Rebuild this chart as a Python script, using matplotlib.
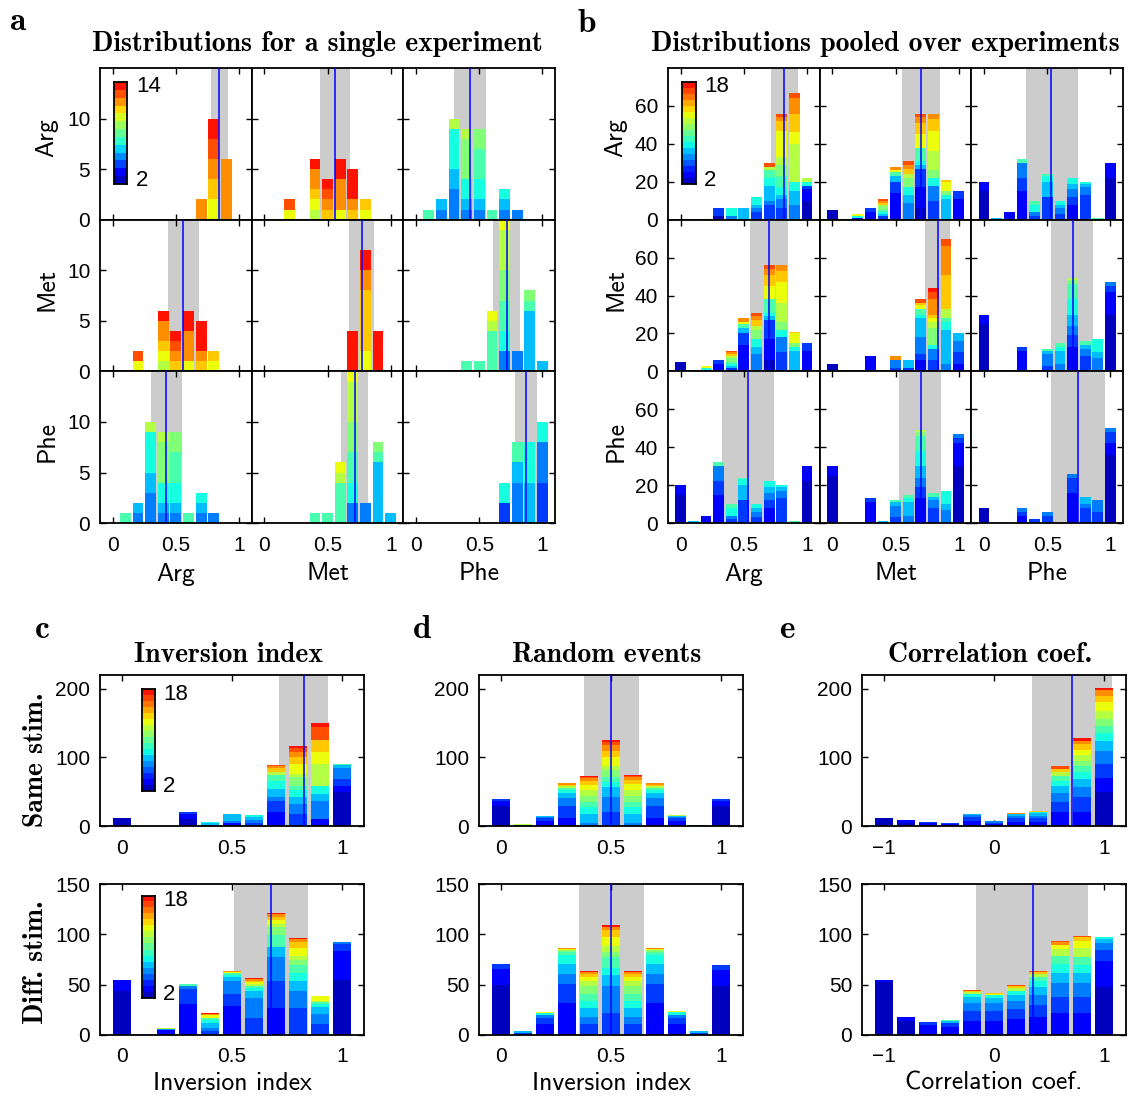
import numpy as np
import matplotlib
matplotlib.use("Agg")
import matplotlib.pyplot as plt
from matplotlib.colors import ListedColormap

# ---------------- data ----------------
# each bar: {bin index: [(colour level, count), ...]} stacked bottom -> top
# colour level 0..13 = navy ... red (jet)
aa_names = ['Arg', 'Met', 'Phe']
bins01 = np.round(np.arange(11) * 0.1, 2)
bins_corr = np.round(np.linspace(-1, 1, 11), 2)

# panel a, single experiment (symmetric, upper triangle)
a_hist = {
    ('Arg', 'Arg'): {7: [(11, 2)], 8: [(9, 2), (10, 2), (11, 2), (12, 2), (13, 2)], 9: [(11, 6)]},
    ('Arg', 'Met'): {2: [(9, 1), (12, 1)], 4: [(8, 1), (9, 1), (10, 1), (11, 2), (13, 1)],
                     5: [(10, 1), (11, 1), (12, 1), (13, 1)], 6: [(9, 1), (11, 3), (13, 2)],
                     7: [(10, 1), (11, 1), (13, 3)], 8: [(9, 1), (10, 1)]},
    ('Arg', 'Phe'): {1: [(6, 1)], 2: [(3, 1), (4, 1)], 3: [(3, 3), (4, 2), (5, 4), (8, 1)],
                     4: [(3, 1), (4, 1), (5, 2), (7, 4), (8, 1)], 5: [(3, 1), (4, 1), (5, 2), (6, 3), (7, 2)],
                     6: [(6, 1)], 7: [(3, 1), (4, 1), (5, 1)], 8: [(3, 1)]},
    ('Met', 'Met'): {7: [(13, 4)], 8: [(9, 2), (10, 6), (11, 2), (13, 2)], 9: [(13, 4)]},
    ('Met', 'Phe'): {4: [(6, 1)], 5: [(6, 1)], 6: [(6, 4), (8, 1), (9, 1)],
                     7: [(3, 2), (5, 2), (6, 3), (7, 3), (8, 4), (9, 2)], 8: [(3, 2)],
                     9: [(4, 6), (6, 1), (7, 1)], 10: [(4, 1)]},
    ('Phe', 'Phe'): {7: [(2, 2), (5, 2)], 8: [(3, 4), (4, 2), (6, 2)], 9: [(4, 4), (5, 4)],
                     10: [(2, 4), (3, 4), (5, 2)]},
}
# (band low, band high, median)
a_band = {
    ('Arg', 'Arg'): (0.78, 0.91, 0.845), ('Arg', 'Met'): (0.44, 0.68, 0.555),
    ('Arg', 'Phe'): (0.30, 0.55, 0.425), ('Met', 'Met'): (0.67, 0.865, 0.77),
    ('Met', 'Phe'): (0.61, 0.82, 0.72), ('Phe', 'Phe'): (0.78, 0.96, 0.87),
}

# panel b, pooled over experiments
b_hist = {
    ('Arg', 'Arg'): {3: [(0, 2), (2, 4)], 4: [(3, 2), (5, 4)], 5: [(4, 6)], 6: [(2, 4), (3, 2), (4, 2), (5, 4)],
                     7: [(2, 8), (3, 2), (4, 8), (5, 4), (6, 4), (8, 2), (12, 2)],
                     8: [(2, 6), (3, 5), (4, 2), (5, 4), (6, 6), (7, 6), (8, 4), (9, 14), (10, 5), (11, 2), (12, 2)],
                     9: [(3, 8), (4, 7), (5, 5), (8, 20), (9, 6), (10, 10), (11, 8), (12, 3)],
                     10: [(0, 10), (1, 6), (2, 2), (5, 2), (8, 2)]},
    ('Arg', 'Met'): {0: [(0, 5)], 2: [(1, 1), (5, 1), (9, 1)], 3: [(1, 4), (2, 2)],
                     4: [(2, 2), (4, 1), (5, 1), (6, 1), (7, 2), (8, 1), (10, 1), (11, 1), (12, 1)],
                     5: [(1, 14), (2, 6), (4, 3), (6, 2), (9, 1), (11, 2)],
                     6: [(3, 9), (4, 4), (5, 4), (7, 5), (8, 2), (10, 3), (11, 2), (12, 2)],
                     7: [(0, 6), (1, 11), (2, 10), (4, 2), (5, 2), (6, 7), (9, 7), (10, 6), (11, 3), (12, 2)],
                     8: [(2, 10), (3, 8), (5, 4), (7, 4), (8, 10), (9, 11), (10, 6), (11, 3)],
                     9: [(4, 11), (5, 2), (7, 2), (9, 5), (10, 1)], 10: [(1, 11), (2, 4)]},
    ('Arg', 'Phe'): {0: [(0, 15), (1, 5)], 1: [(4, 1)], 2: [(1, 4)], 3: [(1, 15), (2, 7), (3, 8), (6, 2)],
                     4: [(2, 2), (3, 2), (5, 4), (6, 2)], 5: [(2, 12), (4, 8), (5, 3), (6, 1)],
                     6: [(2, 3), (3, 3), (4, 2), (5, 2)], 7: [(1, 8), (2, 4), (3, 4), (4, 3), (5, 3)],
                     8: [(2, 13), (3, 4), (4, 2), (5, 1)], 9: [(6, 1)], 10: [(0, 22), (1, 8)]},
    ('Met', 'Met'): {0: [(0, 4)], 3: [(1, 8)], 5: [(2, 2), (3, 4), (11, 2)], 6: [(2, 2), (4, 4)],
                     7: [(1, 6), (2, 3), (3, 9), (4, 10), (5, 2), (6, 3), (9, 2), (10, 1), (12, 2)],
                     8: [(2, 6), (3, 6), (5, 2), (7, 9), (8, 3), (9, 2), (10, 2), (11, 8), (12, 4), (13, 2)],
                     9: [(3, 4), (4, 18), (5, 4), (6, 2), (8, 5), (10, 18), (11, 15), (12, 4)],
                     10: [(1, 4), (2, 6), (3, 6), (4, 4)]},
    ('Met', 'Phe'): {0: [(0, 25), (1, 5)], 3: [(1, 11), (2, 2)], 4: [(4, 1)], 5: [(2, 3), (3, 6), (4, 2), (6, 1)],
                     6: [(3, 4), (4, 7), (5, 2), (6, 2)],
                     7: [(1, 13), (2, 6), (3, 5), (4, 6), (5, 8), (6, 8), (7, 2), (8, 1)],
                     8: [(2, 8), (3, 4), (4, 2), (6, 2)], 9: [(3, 7), (4, 3), (5, 7)],
                     10: [(0, 30), (1, 12), (2, 3), (3, 2)]},
    ('Phe', 'Phe'): {0: [(0, 8)], 3: [(1, 4), (2, 2), (3, 2)], 4: [(2, 2)], 5: [(2, 4), (3, 2)],
                     7: [(1, 16), (2, 8), (3, 2)], 8: [(2, 8), (3, 2), (4, 4)], 9: [(2, 6), (3, 6)],
                     10: [(0, 36), (1, 6), (2, 6), (3, 2)]},
}
b_band = {
    ('Arg', 'Arg'): (0.717, 0.927, 0.82), ('Arg', 'Met'): (0.55, 0.85, 0.70),
    ('Arg', 'Phe'): (0.33, 0.74, 0.53), ('Met', 'Met'): (0.73, 0.93, 0.835),
    ('Met', 'Phe'): (0.53, 0.86, 0.70), ('Phe', 'Phe'): (0.53, 0.96, 0.74),
}

# panel c, inversion index
c_same = {0: [(0, 11)], 3: [(0, 10), (1, 7), (2, 4)], 4: [(2, 2), (4, 2), (5, 2)],
          5: [(1, 5), (3, 2), (4, 10), (11, 1)], 6: [(2, 5), (3, 4), (4, 4), (5, 3)],
          7: [(1, 21), (2, 16), (3, 5), (4, 12), (5, 12), (6, 9), (8, 4), (10, 5), (11, 3), (12, 2)],
          8: [(2, 17), (3, 15), (4, 10), (5, 10), (6, 7), (7, 12), (8, 5), (9, 15), (10, 10), (11, 7), (12, 5), (13, 3)],
          9: [(1, 10), (3, 27), (4, 10), (5, 11), (8, 32), (9, 18), (10, 18), (12, 18), (13, 6)],
          10: [(0, 49), (1, 10), (2, 10), (3, 15), (4, 5), (6, 1), (9, 1)]}
c_diff = {0: [(0, 44), (1, 11)], 1: [(4, 1)], 2: [(1, 5), (3, 1), (8, 1)], 3: [(1, 31), (2, 15), (3, 3), (6, 2)],
          4: [(2, 4), (3, 3), (4, 5), (5, 3), (6, 2), (9, 3), (11, 1), (13, 1)],
          5: [(1, 29), (2, 12), (3, 13), (4, 4), (5, 2), (6, 2), (9, 1), (11, 1)],
          6: [(2, 17), (3, 20), (4, 7), (5, 3), (6, 2), (8, 2), (9, 2), (10, 1), (11, 2), (13, 1)],
          7: [(1, 27), (2, 27), (3, 23), (4, 10), (6, 12), (7, 8), (8, 3), (9, 4), (10, 3), (11, 3), (13, 1)],
          8: [(2, 27), (3, 17), (4, 10), (5, 8), (6, 8), (7, 5), (8, 3), (9, 8), (10, 6), (11, 3), (13, 1)],
          9: [(2, 11), (3, 10), (4, 7), (5, 3), (6, 2), (8, 1), (9, 5)],
          10: [(0, 55), (1, 28), (2, 7), (3, 2)]}
c_band = [(0.714, 0.935, 0.825), (0.51, 0.844, 0.675)]

# panel d, random events
d_same = {0: [(0, 29), (1, 8), (2, 3)], 1: [(3, 1), (5, 1), (8, 1)], 2: [(1, 7), (2, 4), (3, 2), (4, 2)],
          3: [(1, 12), (2, 17), (3, 12), (4, 7), (5, 5), (6, 3), (8, 2), (10, 2), (11, 2)],
          4: [(3, 5), (4, 12), (5, 10), (6, 8), (7, 8), (8, 10), (9, 7), (10, 6), (11, 4), (12, 2), (13, 1)],
          5: [(2, 20), (3, 22), (4, 15), (5, 7), (6, 7), (7, 10), (8, 7), (9, 12), (10, 10), (11, 8), (12, 5), (13, 3)],
          6: [(3, 5), (4, 12), (5, 10), (6, 8), (7, 8), (8, 10), (9, 8), (10, 6), (11, 4), (12, 2), (13, 2)],
          7: [(1, 12), (2, 17), (3, 12), (4, 7), (5, 5), (6, 3), (8, 2), (10, 2), (11, 2)],
          8: [(1, 7), (2, 4), (3, 2), (4, 2), (8, 1)], 9: [(3, 1), (4, 1)], 10: [(0, 29), (1, 8), (2, 3)]}
d_diff = {0: [(0, 50), (1, 16), (2, 5)], 1: [(2, 2), (4, 2)], 2: [(1, 11), (2, 6), (3, 3), (5, 2), (9, 1)],
          3: [(1, 32), (2, 19), (3, 10), (4, 10), (5, 8), (6, 3), (7, 2), (9, 1), (11, 1)],
          4: [(2, 11), (3, 7), (4, 9), (5, 7), (6, 7), (7, 8), (8, 5), (9, 4), (10, 3), (11, 2), (13, 1)],
          5: [(2, 22), (3, 27), (4, 11), (5, 7), (6, 10), (7, 5), (8, 6), (9, 9), (10, 7), (11, 3), (13, 2)],
          6: [(2, 11), (3, 7), (4, 9), (5, 7), (6, 7), (7, 8), (8, 5), (9, 4), (10, 3), (11, 2), (13, 1)],
          7: [(1, 32), (2, 19), (3, 10), (4, 10), (5, 8), (6, 3), (7, 2), (9, 1), (11, 1)],
          8: [(1, 11), (2, 6), (3, 3), (5, 3), (9, 1)], 9: [(2, 2), (4, 2)], 10: [(0, 49), (1, 16), (2, 5)]}
d_band = [(0.377, 0.626, 0.50), (0.354, 0.649, 0.50)]

# panel e, correlation coefficient
e_same = {0: [(0, 11)], 1: [(0, 5), (1, 4)], 2: [(1, 4), (2, 2)], 3: [(1, 3), (2, 2)],
          4: [(1, 8), (2, 5), (3, 3), (4, 2)], 5: [(1, 3), (2, 2), (3, 2)],
          6: [(1, 6), (2, 5), (3, 4), (4, 2), (9, 1), (11, 1)], 7: [(1, 6), (2, 5), (3, 4), (4, 4), (5, 2), (10, 1)],
          8: [(1, 20), (2, 15), (3, 13), (4, 10), (5, 8), (6, 7), (8, 5), (10, 5), (12, 4)],
          9: [(1, 20), (2, 22), (3, 15), (4, 12), (5, 10), (6, 8), (7, 8), (8, 8), (9, 8), (10, 8), (11, 5), (13, 4)],
          10: [(0, 50), (1, 20), (2, 20), (3, 20), (4, 14), (5, 12), (6, 10), (7, 10), (8, 12), (9, 12), (10, 10), (11, 8), (13, 3)]}
e_diff = {0: [(0, 53), (1, 2)], 1: [(0, 14), (1, 4)], 2: [(1, 10), (2, 3)], 3: [(1, 8), (2, 4), (4, 2), (6, 1)],
          4: [(1, 14), (2, 10), (3, 8), (4, 6), (5, 3), (8, 2), (10, 1), (12, 1)],
          5: [(1, 14), (2, 10), (3, 8), (4, 5), (5, 3), (9, 1), (10, 1)],
          6: [(1, 16), (2, 10), (3, 8), (4, 6), (5, 4), (8, 3), (10, 2), (12, 1)],
          7: [(1, 18), (2, 12), (3, 10), (4, 8), (5, 6), (6, 4), (8, 3), (10, 2), (12, 1)],
          8: [(1, 22), (2, 16), (3, 14), (4, 10), (5, 9), (6, 7), (8, 7), (9, 4), (11, 3), (12, 1)],
          9: [(1, 22), (2, 16), (3, 14), (4, 10), (5, 8), (6, 7), (8, 9), (9, 7), (10, 4), (12, 1)],
          10: [(0, 48), (1, 26), (2, 10), (3, 7), (4, 4), (5, 2)]}
e_band = [(0.345, 1.07, 0.71), (-0.16, 0.85, 0.355)]

# ---------------- style ----------------
W, H = 1139, 1097
TITLE_FONT = 'cmb10'
LABEL_FONT = 'cmss10'
TICK_FONT = 'Liberation Sans'
TICK_SIZE = 15
TITLE_SIZE = 20
LABEL_SIZE = 18.5
jet = plt.get_cmap('jet')
T_LO, T_HI = 0.055, 0.89

fig = plt.figure(figsize=(W / 100, H / 100), dpi=100)


def px_axes(x0, y0, x1, y1):
    # axes from pixel box (top-left origin)
    return fig.add_axes([x0 / W, 1 - y1 / H, (x1 - x0) / W, (y1 - y0) / H])


def px_text(x, y, s, **kw):
    return fig.text(x / W, 1 - y / H, s, **kw)


def level_color(k):
    return jet(T_LO + k * (T_HI - T_LO) / 13)


def draw_hist(ax, bins, bars, width, band, xlim, ylim):
    lo, hi, med = band
    ax.axvspan(lo, hi, color='#cccccc', lw=0, zorder=0)
    for i, segs in bars.items():
        bottom = 0
        for lev, n in segs:
            ax.bar(bins[i], n, width, bottom=bottom, color=level_color(lev), lw=0, zorder=2)
            bottom += n
    ax.axvline(med, color=(0, 0, 1), lw=1.1, zorder=3)
    ax.set_xlim(xlim)
    ax.set_ylim(ylim)
    ax.tick_params(direction='in', top=True, right=True, length=4, width=1.0)
    ax.tick_params(axis='x', pad=9)
    ax.tick_params(axis='y', pad=7)
    for sp in ax.spines.values():
        sp.set_linewidth(1.3)


def fmt(v):
    return ('%g' % v).replace('-', '\u2212')


def set_ticks(ax, xt, yt, show_x, show_y):
    ax.set_xticks(xt)
    ax.set_yticks(yt)
    ax.set_xticklabels([fmt(v) for v in xt] if show_x else [])
    ax.set_yticklabels([fmt(v) for v in yt] if show_y else [])
    for lab in ax.get_xticklabels() + ax.get_yticklabels():
        lab.set_family(TICK_FONT)
        lab.set_fontsize(TICK_SIZE)


def draw_colorbar(x0, y0, x1, y1, n, top_lab, lab_x):
    cax = px_axes(x0, y0, x1, y1)
    cols = [jet(t) for t in np.linspace(T_LO, T_HI, n)]
    cax.imshow(np.arange(n)[::-1, None], cmap=ListedColormap(cols), aspect='auto',
               interpolation='nearest')
    cax.set_xticks([])
    cax.set_yticks([])
    for sp in cax.spines.values():
        sp.set_linewidth(1.3)
    px_text(lab_x, y0 + 5, top_lab, family=TICK_FONT, fontsize=16, va='center')
    px_text(lab_x, y1 - 4, '2', family=TICK_FONT, fontsize=16, va='center')


def get_pair(table, r, c):
    key = (r, c) if (r, c) in table else (c, r)
    return table[key]


# ---------------- panels a and b ----------------
cell = 151.7
grids = [(100, a_hist, a_band, (0, 15), [0, 5, 10], 0.085, 47),
         (668, b_hist, b_band, (0, 80), [0, 20, 40, 60], 0.085, 616)]
for gx, hist, band, ylim, yt, width, rowlab_x in grids:
    for r, rname in enumerate(aa_names):
        for c, cname in enumerate(aa_names):
            x0 = gx + c * cell
            y0 = 68 + r * cell
            ax = px_axes(x0, y0, x0 + cell, y0 + cell)
            draw_hist(ax, bins01, get_pair(hist, rname, cname), width,
                      get_pair(band, rname, cname), (-0.1, 1.1), ylim)
            set_ticks(ax, [0, 0.5, 1], yt, r == 2, c == 0)
        px_text(rowlab_x, 68 + (r + 0.5) * cell - 6, rname,
                family=LABEL_FONT, fontsize=LABEL_SIZE, rotation=90, ha='center', va='center')
    for c, cname in enumerate(aa_names):
        px_text(gx + (c + 0.5) * cell, 574, cname, family=LABEL_FONT, fontsize=LABEL_SIZE,
                ha='center', va='center')

draw_colorbar(114, 82, 127, 184, 13, '14', 136)
draw_colorbar(682, 82, 696, 184, 17, '18', 704)

px_text(9, 22, 'a', family=TITLE_FONT, fontsize=24, va='center')
px_text(578, 24, 'b', family=TITLE_FONT, fontsize=24, va='center')
px_text(317, 44, 'Distributions for a single experiment', family=TITLE_FONT,
        fontsize=TITLE_SIZE, ha='center', va='center')
px_text(885, 44, 'Distributions pooled over experiments', family=TITLE_FONT,
        fontsize=TITLE_SIZE, ha='center', va='center')

# ---------------- panels c, d, e ----------------
lower = [(100, bins01, (c_same, c_diff), c_band, (-0.1, 1.1), [0, 0.5, 1], 0.08,
          'Inversion index', 'Inversion index', 'c', 35),
         (479, bins01, (d_same, d_diff), d_band, (-0.1, 1.1), [0, 0.5, 1], 0.08,
          'Random events', 'Inversion index', 'd', 413),
         (862, bins_corr, (e_same, e_diff), e_band, (-1.2, 1.2), [-1, 0, 1], 0.16,
          'Correlation coef.', 'Correlation coef.', 'e', 779)]
for lx, bins, (same, diff), bands, xlim, xt, width, title, xlab, letter, let_x in lower:
    ax1 = px_axes(lx, 675, lx + 264, 826)
    draw_hist(ax1, bins, same, width, bands[0], xlim, (0, 220))
    set_ticks(ax1, xt, [0, 100, 200], True, True)
    ax2 = px_axes(lx, 884, lx + 264, 1035)
    draw_hist(ax2, bins, diff, width, bands[1], xlim, (0, 150))
    set_ticks(ax2, xt, [0, 50, 100, 150], True, True)
    px_text(lx + 132, 1083, xlab, family=LABEL_FONT, fontsize=LABEL_SIZE, ha='center', va='center')
    px_text(lx + 128, 655, title, family=TITLE_FONT, fontsize=TITLE_SIZE, ha='center', va='center')
    px_text(let_x, 630, letter, family=TITLE_FONT, fontsize=24, va='center')

px_text(36, 760, 'Same stim.', family=TITLE_FONT, fontsize=TITLE_SIZE, rotation=90,
        ha='center', va='center')
px_text(36, 962, 'Diff. stim.', family=TITLE_FONT, fontsize=TITLE_SIZE, rotation=90,
        ha='center', va='center')

draw_colorbar(142, 689, 155, 791, 17, '18', 163)
draw_colorbar(142, 896, 155, 998, 17, '18', 163)

fig.savefig('out.png', dpi=100)
